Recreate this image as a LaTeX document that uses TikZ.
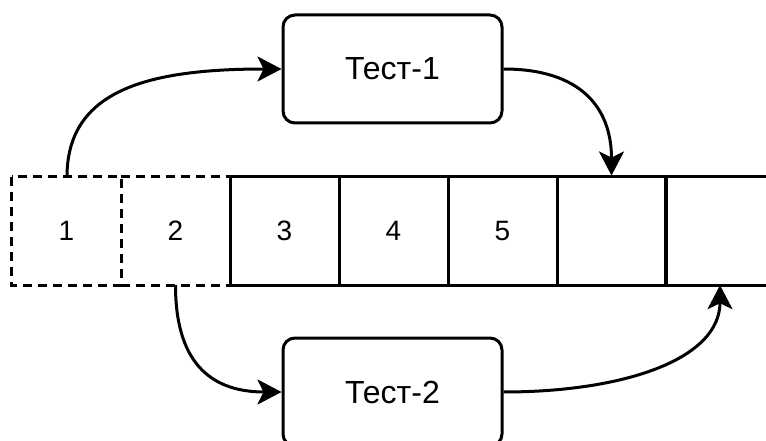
\documentclass[tikz,border=0pt]{standalone}
\usepackage{fontspec}
\setmainfont{Liberation Sans}
\usetikzlibrary{arrows.meta}
\begin{document}
\begin{tikzpicture}[x=1pt,y=-1pt,
  cell/.style={minimum width=109pt,minimum height=108pt,inner sep=0pt,font=\fontsize{28}{30}\selectfont},
  solidcell/.style={cell,draw,line width=3pt},
  dashline/.style={line width=3pt,dash pattern=on 9pt off 6pt},
  testbox/.style={draw,line width=3pt,rounded corners=12pt,minimum width=219pt,minimum height=108pt,inner sep=0pt,font=\fontsize{32}{34}\selectfont},
  conn/.style={line width=3pt,-{Stealth[length=24pt,width=25pt,inset=6pt]}}]
\useasboundingbox (0,0) rectangle (766,441);
\clip (0,0) rectangle (766,441);
% dashed cells
\node[cell] (c1) at (66.5,231) {1};
\node[cell] (c2) at (175.5,231) {2};
\draw[dashline] (c1.north west) rectangle (c1.south east);
\draw[dashline] (c2.north west) -- (c2.north east);
\draw[dashline] (c2.south west) -- (c2.south east);
% solid cells
\node[solidcell] (c3) at (284.5,231) {3};
\node[solidcell] (c4) at (393.5,231) {4};
\node[solidcell] (c5) at (502.5,231) {5};
\node[solidcell] (c6) at (611.5,231) {};
\node[cell,minimum width=100pt] (c7) at (716,231) {};
\draw[line width=3pt] (c7.north east) -- (c7.north west) -- (c7.south west) -- (c7.south east);
% test boxes
\node[testbox] (t1) at (392.5,69) {Тест-1};
\node[testbox] (t2) at (392.5,392) {Тест-2};
% connectors
\draw[conn] ([xshift=0.5pt]c1.north) .. controls +(0,-87) and +(-133,0) .. (t1.west);
\draw[conn] (t1.east) .. controls +(78,0) and +(0,-67) .. (c6.north);
\draw[conn] (c2.south) .. controls +(0,75) and +(-73,0) .. (t2.west);
\draw[conn] (t2.east) .. controls +(118,0) and +(0,75) .. ([xshift=4pt]c7.south);
\end{tikzpicture}
\end{document}
